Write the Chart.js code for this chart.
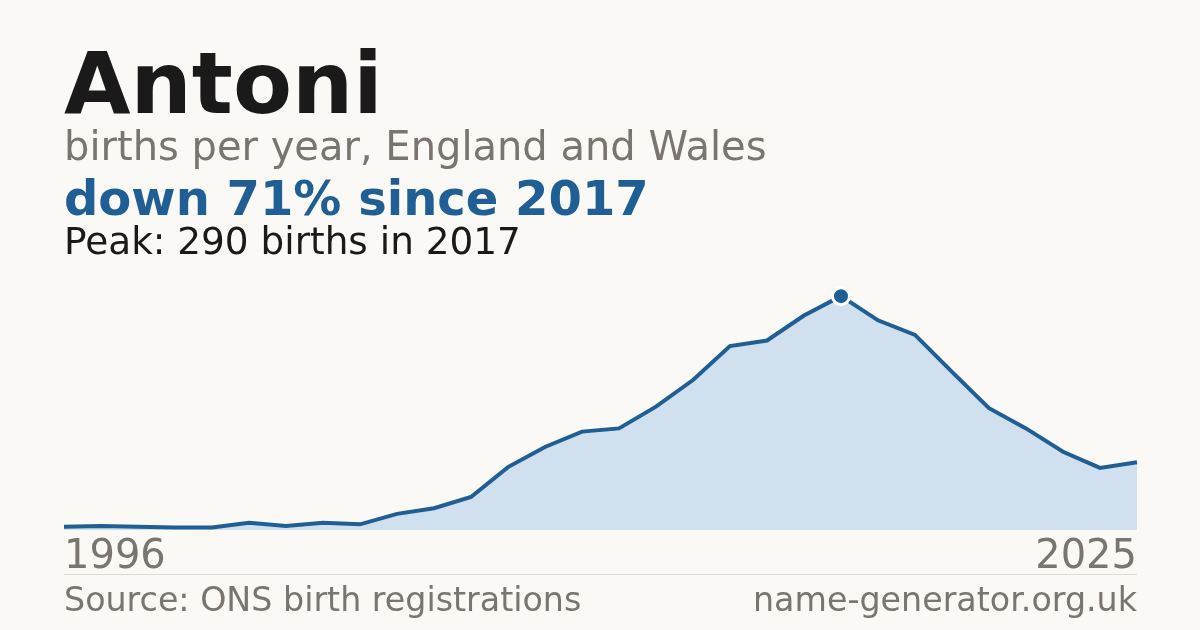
<!DOCTYPE html>
<html>
<head>
<meta charset="utf-8">
<script src="https://cdn.jsdelivr.net/npm/chart.js@4"></script>
<style>
  html, body { margin: 0; padding: 0; background: #faf9f5; }
  #wrap { position: relative; width: 1200px; height: 630px; overflow: hidden; background: #faf9f5; font-family: 'DejaVu Sans', sans-serif; }
  .t { position: absolute; left: 64px; white-space: nowrap; line-height: 1; }
  #title { top: 40px; font-size: 86px; font-weight: bold; color: #1a1a1a; }
  #sub { top: 126px; font-size: 40px; color: #7a756e; }
  #change { top: 174px; font-size: 48px; font-weight: bold; color: #1f5f96; }
  #peak { top: 223px; font-size: 37.4px; color: #1a1a1a; }
  #rule { position: absolute; left: 64px; width: 1073px; top: 574px; height: 1px; background: #dddbd5; }
  #src { top: 583px; font-size: 33.3px; color: #7a756e; }
  #site { top: 583px; left: auto; right: 63px; font-size: 33.3px; color: #7a756e; }
  canvas { position: absolute; left: 0; top: 0; }
</style>
</head>
<body>
<div id="wrap">
  <canvas id="c" width="1200" height="630"></canvas>
  <div class="t" id="title">Antoni</div>
  <div class="t" id="sub">births per year, England and Wales</div>
  <div class="t" id="change">down 71% since 2017</div>
  <div class="t" id="peak">Peak: 290 births in 2017</div>
  <div id="rule"></div>
  <div class="t" id="src">Source: ONS birth registrations</div>
  <div class="t" id="site">name-generator.org.uk</div>
</div>
<script>
const years = [1996,1997,1998,1999,2000,2001,2002,2003,2004,2005,2006,2007,2008,2009,2010,2011,2012,2013,2014,2015,2016,2017,2018,2019,2020,2021,2022,2023,2024,2025];
const births = [4,5,4,3,3,9,5,9,7,20,27,41,78,103,122,126,153,186,228,235,266,290,260,242,196,151,126,97,77,84];
const tickLabels = ['1996','2025'];
const peakIndex = births.indexOf(Math.max(...births));

const blue = '#1f5f96';
new Chart(document.getElementById('c'), {
  type: 'line',
  data: {
    labels: years.map(String),
    datasets: [{
      data: births,
      borderColor: blue,
      borderWidth: 4,
      backgroundColor: '#d0e0ef',
      fill: 'origin',
      tension: 0,
      clip: false,
      pointRadius: births.map((v, i) => i === peakIndex ? 8.5 : 0),
      pointBackgroundColor: blue,
      pointBorderColor: '#ffffff',
      pointBorderWidth: 3,
      pointHoverRadius: 0
    }]
  },
  options: {
    responsive: false,
    devicePixelRatio: 1,
    animation: false,
    events: [],
    layout: { padding: { left: 64, right: 63, top: 280, bottom: 44 } },
    plugins: { legend: { display: false }, tooltip: { enabled: false } },
    scales: {
      x: {
        offset: false,
        grid: { display: false, drawTicks: false },
        border: { display: false },
        ticks: {
          autoSkip: false,
          maxRotation: 0,
          minRotation: 0,
          align: 'inner',
          padding: 4,
          color: '#7a756e',
          font: { family: 'DejaVu Sans', size: 40 },
          callback: function(v, i) {
            const lab = this.getLabelForValue(v);
            return tickLabels.includes(lab) ? lab : '';
          }
        }
      },
      y: { display: false, min: 0, max: 310 }
    }
  }
});
</script>
</body>
</html>
